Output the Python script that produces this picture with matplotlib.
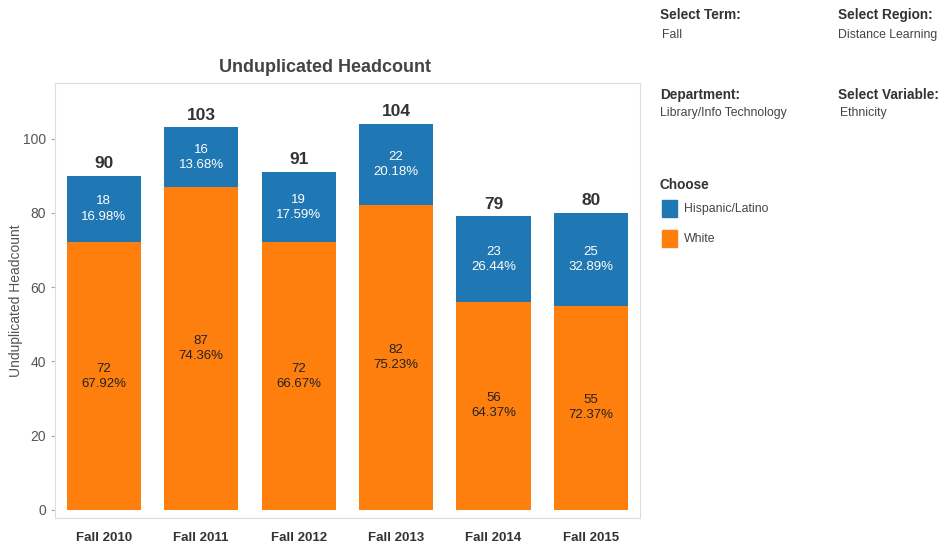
import matplotlib.pyplot as plt
import numpy as np

# data
terms = ["Fall 2010", "Fall 2011", "Fall 2012", "Fall 2013", "Fall 2014", "Fall 2015"]
hispanic = [18, 16, 19, 22, 23, 25]
hispanic_pct = ["16.98%", "13.68%", "17.59%", "20.18%", "26.44%", "32.89%"]
white = [72, 87, 72, 82, 56, 55]
white_pct = ["67.92%", "74.36%", "66.67%", "75.23%", "64.37%", "72.37%"]
totals = [90, 103, 91, 104, 79, 80]

blue = "#1f77b4"
orange = "#ff7f0e"
gray = "#555555"

plt.rcParams["font.family"] = ["Liberation Sans", "DejaVu Sans"]

fig = plt.figure(figsize=(9.4, 5.46), dpi=100)
ax = fig.add_axes([0.0585, 0.0513, 0.622, 0.797])

x = np.arange(len(terms))
w = 0.76
ax.bar(x, white, w, color=orange)
ax.bar(x, hispanic, w, bottom=white, color=blue)

for i in range(len(terms)):
    ax.text(x[i], white[i] / 2, f"{white[i]}\n{white_pct[i]}", ha="center", va="center",
            color="#222222", fontsize=9.5, linespacing=1.35)
    ax.text(x[i], white[i] + hispanic[i] / 2, f"{hispanic[i]}\n{hispanic_pct[i]}", ha="center",
            va="center", color="white", fontsize=9.5, linespacing=1.35)
    ax.text(x[i], white[i] + hispanic[i] + 1.3, str(totals[i]), ha="center", va="bottom",
            color="#333333", fontsize=12.5, fontweight="bold")

ax.set_xlim(-0.5, len(terms) - 0.5)
ax.set_ylim(-2.2, 115)
ax.set_yticks([0, 20, 40, 60, 80, 100])
ax.set_xticks(x)
ax.set_xticklabels(terms, fontsize=9.5, fontweight="bold", color="#333333")
ax.tick_params(axis="y", labelsize=10, colors="#aaaaaa", labelcolor=gray, length=3)
ax.tick_params(axis="x", length=0, pad=10)
for s in ax.spines.values():
    s.set_color("#dddddd")
    s.set_linewidth(0.8)
ax.set_ylabel("Unduplicated Headcount", fontsize=10, color=gray)
ax.yaxis.set_label_coords(-0.055, 0.5)
ax.set_title("Unduplicated Headcount", fontsize=13, fontweight="bold", color="#444444",
             pad=8, x=0.462)

# right-hand filter panel
def px(xp, yp):
    return xp / 940, 1 - yp / 546

head = dict(fontsize=9.8, fontweight="bold", color="#333333", va="center")
val = dict(fontsize=8.8, color="#444444", va="center")
fig.text(*px(660, 15), "Select Term:", **head)
fig.text(*px(662, 35), "Fall", **val)
fig.text(*px(838, 15), "Select Region:", **head)
fig.text(*px(838, 35), "Distance Learning", **val)
fig.text(*px(660, 95), "Department:", **head)
fig.text(*px(660, 113), "Library/Info Technology", **val)
fig.text(*px(838, 95), "Select Variable:", **head)
fig.text(*px(840, 113), "Ethnicity", **val)
fig.text(*px(660, 185), "Choose", **head)

for yp, c, lab in [(209, blue, "Hispanic/Latino"), (239, orange, "White")]:
    fx, fy = px(662, yp + 8)
    fig.patches.append(plt.Rectangle((fx, fy), 15 / 940, 17 / 546, color=c,
                                     transform=fig.transFigure, figure=fig))
    fig.text(*px(684, yp), lab, **val)

fig.savefig("out.png", dpi=100)
